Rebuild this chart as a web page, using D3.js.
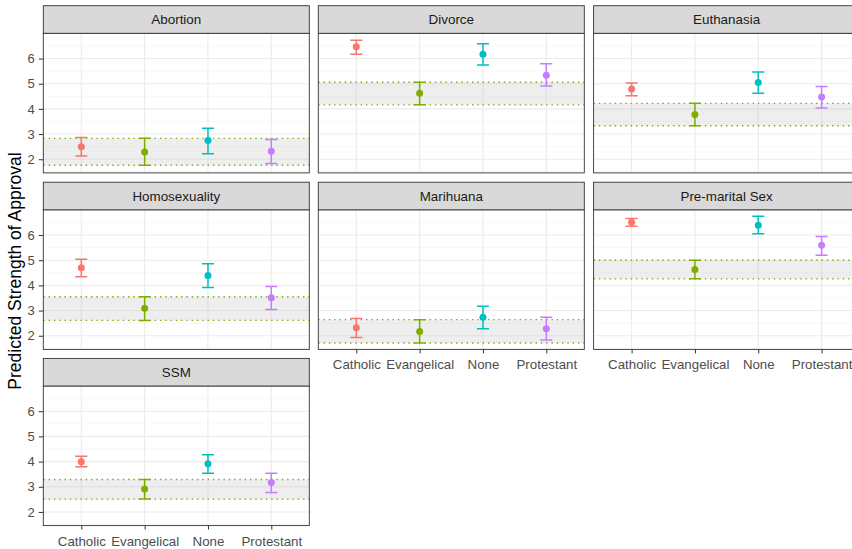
<!DOCTYPE html>
<html>
<head>
<meta charset="utf-8">
<script src="https://cdn.jsdelivr.net/npm/d3@7"></script>
<style>
  html, body { margin: 0; padding: 0; background: #fff; }
  svg { display: block; font-family: "Liberation Sans", Arial, sans-serif; }
</style>
</head>
<body>
<svg id="chart" width="852" height="549"></svg>
<script>
// Predicted strength of approval by religious tradition, one facet per issue.
const groups = ["Catholic", "Evangelical", "None", "Protestant"];
const colors = ["#F8766D", "#7CAE00", "#00BFC4", "#C77CFF"];
const issues = ["Abortion", "Divorce", "Euthanasia", "Homosexuality", "Marihuana", "Pre-marital Sex", "SSM"];

// Estimates, per issue, in the order of `groups`
const estAbortion      = [2.50, 2.29, 2.74, 2.32];
const estDivorce       = [6.47, 4.62, 6.17, 5.34];
const estEuthanasia    = [4.79, 3.78, 5.05, 4.47];
const estHomosexuality = [4.70, 3.09, 4.39, 3.51];
const estMarihuana     = [2.32, 2.17, 2.73, 2.28];
const estPremarital    = [6.51, 4.63, 6.39, 5.59];
const estSSM           = [3.99, 2.91, 3.91, 3.17];

// Lower confidence bounds
const lowAbortion      = [2.13, 1.76, 2.22, 1.83];
const lowDivorce       = [6.17, 4.16, 5.74, 4.91];
const lowEuthanasia    = [4.52, 3.33, 4.62, 4.04];
const lowHomosexuality = [4.34, 2.61, 3.92, 3.04];
const lowMarihuana     = [1.93, 1.71, 2.28, 1.83];
const lowPremarital    = [6.35, 4.26, 6.05, 5.20];
const lowSSM           = [3.80, 2.51, 3.54, 2.77];

// Upper confidence bounds
const highAbortion      = [2.86, 2.83, 3.23, 2.78];
const highDivorce       = [6.73, 5.06, 6.59, 5.79];
const highEuthanasia    = [5.03, 4.22, 5.47, 4.89];
const highHomosexuality = [5.04, 3.55, 4.86, 3.96];
const highMarihuana     = [2.69, 2.64, 3.17, 2.73];
const highPremarital    = [6.66, 5.00, 6.75, 5.94];
const highSSM           = [4.21, 3.29, 4.27, 3.54];

const yTicks = [2, 3, 4, 5, 6];
const yMinor = [1.5, 2.5, 3.5, 4.5, 5.5, 6.5];
const yTitle = "Predicted Strength of Approval";

const est  = [estAbortion, estDivorce, estEuthanasia, estHomosexuality, estMarihuana, estPremarital, estSSM];
const low  = [lowAbortion, lowDivorce, lowEuthanasia, lowHomosexuality, lowMarihuana, lowPremarital, lowSSM];
const high = [highAbortion, highDivorce, highEuthanasia, highHomosexuality, highMarihuana, highPremarital, highSSM];

const facets = issues.map((name, i) => ({
  name,
  rows: groups.map((g, j) => ({ group: g, color: colors[j], est: est[i][j], low: low[i][j], high: high[i][j] })),
  ref: { low: low[i][1], high: high[i][1] }   // evangelical interval as reference band
}));

// Facet grid geometry
const panelW = 266, panelH = 139.6, stripH = 27.6;
const colX = [43.3, 318.3, 593.6];
const rowY = [5.7, 182.2, 358.4];
const nCol = 3;

// Shared y scale with 5% expansion
const allVals = [].concat(...low, ...high);
const [vmin, vmax] = d3.extent(allVals);
const pad = (vmax - vmin) * 0.05;
const yDomain = [vmin - pad, vmax + pad];

const svg = d3.select("#chart");

facets.forEach((f, i) => {
  const r = Math.floor(i / nCol), c = i % nCol;
  const x0 = colX[c], top = rowY[r], py = top + stripH;
  const x = d3.scalePoint().domain(groups).range([x0, x0 + panelW]).padding(0.6);
  const y = d3.scaleLinear().domain(yDomain).range([py + panelH, py]);
  const g = svg.append("g");

  // panel background
  g.append("rect").attr("x", x0).attr("y", py).attr("width", panelW).attr("height", panelH).attr("fill", "#fff");

  const clipId = "clip" + i;
  g.append("clipPath").attr("id", clipId).append("rect")
    .attr("x", x0).attr("y", py).attr("width", panelW).attr("height", panelH);
  const inner = g.append("g").attr("clip-path", `url(#${clipId})`);

  // grid
  inner.selectAll(".ymin").data(yMinor.filter(v => v > yDomain[0] && v < yDomain[1])).join("line")
    .attr("x1", x0).attr("x2", x0 + panelW).attr("y1", d => y(d)).attr("y2", d => y(d))
    .attr("stroke", "#f2f2f2").attr("stroke-width", 0.6);
  inner.selectAll(".ymaj").data(yTicks).join("line")
    .attr("x1", x0).attr("x2", x0 + panelW).attr("y1", d => y(d)).attr("y2", d => y(d))
    .attr("stroke", "#ebebeb").attr("stroke-width", 1.1);
  inner.selectAll(".xmaj").data(groups).join("line")
    .attr("x1", d => x(d)).attr("x2", d => x(d)).attr("y1", py).attr("y2", py + panelH)
    .attr("stroke", "#ebebeb").attr("stroke-width", 1.1);

  // reference band
  inner.append("rect")
    .attr("x", x0).attr("width", panelW)
    .attr("y", y(f.ref.high)).attr("height", y(f.ref.low) - y(f.ref.high))
    .attr("fill", "#bdbdbd").attr("opacity", 0.25);
  [f.ref.low, f.ref.high].forEach(v => {
    inner.append("line")
      .attr("x1", x0).attr("x2", x0 + panelW).attr("y1", y(v)).attr("y2", y(v))
      .attr("stroke", colors[1]).attr("stroke-width", 1.4).attr("stroke-dasharray", "1.4,3.9");
  });

  // error bars
  const cap = x.step() * 0.19 / 2;
  const eb = inner.selectAll(".eb").data(f.rows).join("g").attr("stroke", d => d.color).attr("stroke-width", 1.5);
  eb.append("line").attr("x1", d => x(d.group)).attr("x2", d => x(d.group)).attr("y1", d => y(d.low)).attr("y2", d => y(d.high));
  eb.append("line").attr("x1", d => x(d.group) - cap).attr("x2", d => x(d.group) + cap).attr("y1", d => y(d.low)).attr("y2", d => y(d.low));
  eb.append("line").attr("x1", d => x(d.group) - cap).attr("x2", d => x(d.group) + cap).attr("y1", d => y(d.high)).attr("y2", d => y(d.high));

  // estimates
  inner.selectAll(".pt").data(f.rows).join("circle")
    .attr("cx", d => x(d.group)).attr("cy", d => y(d.est)).attr("r", 3.5).attr("fill", d => d.color);

  // panel border
  g.append("rect").attr("x", x0).attr("y", py).attr("width", panelW).attr("height", panelH)
    .attr("fill", "none").attr("stroke", "#333").attr("stroke-width", 0.9);

  // strip
  g.append("rect").attr("x", x0).attr("y", top).attr("width", panelW).attr("height", stripH)
    .attr("fill", "#d9d9d9").attr("stroke", "#333").attr("stroke-width", 0.9);
  g.append("text").attr("x", x0 + panelW / 2).attr("y", top + stripH / 2).attr("dy", "0.35em")
    .attr("text-anchor", "middle").attr("font-size", 13.4).attr("fill", "#1a1a1a").text(f.name);

  // y axis on first column
  if (c === 0) {
    const ax = g.append("g").attr("transform", `translate(${x0},0)`)
      .call(d3.axisLeft(y).tickValues(yTicks).tickSize(4.5).tickPadding(4).tickFormat(d3.format("d")));
    ax.select(".domain").remove();
    ax.selectAll(".tick line").attr("stroke", "#333");
    ax.selectAll(".tick text").attr("fill", "#4d4d4d").attr("font-size", 13).attr("font-family", "Liberation Sans, Arial, sans-serif");
  }

  // x axis where no panel sits below
  if (i + nCol >= facets.length) {
    const ax = g.append("g").attr("transform", `translate(0,${py + panelH})`)
      .call(d3.axisBottom(x).tickSize(4).tickPadding(6.5));
    ax.select(".domain").remove();
    ax.selectAll(".tick line").attr("stroke", "#333");
    ax.selectAll(".tick text").attr("fill", "#4d4d4d").attr("font-size", 13.3).attr("font-family", "Liberation Sans, Arial, sans-serif");
  }
});

// y axis title
svg.append("text")
  .attr("transform", "translate(15,271) rotate(-90)")
  .attr("text-anchor", "middle").attr("dy", "0.35em").attr("font-size", 17.5).attr("fill", "#000").text(yTitle);
</script>
</body>
</html>
